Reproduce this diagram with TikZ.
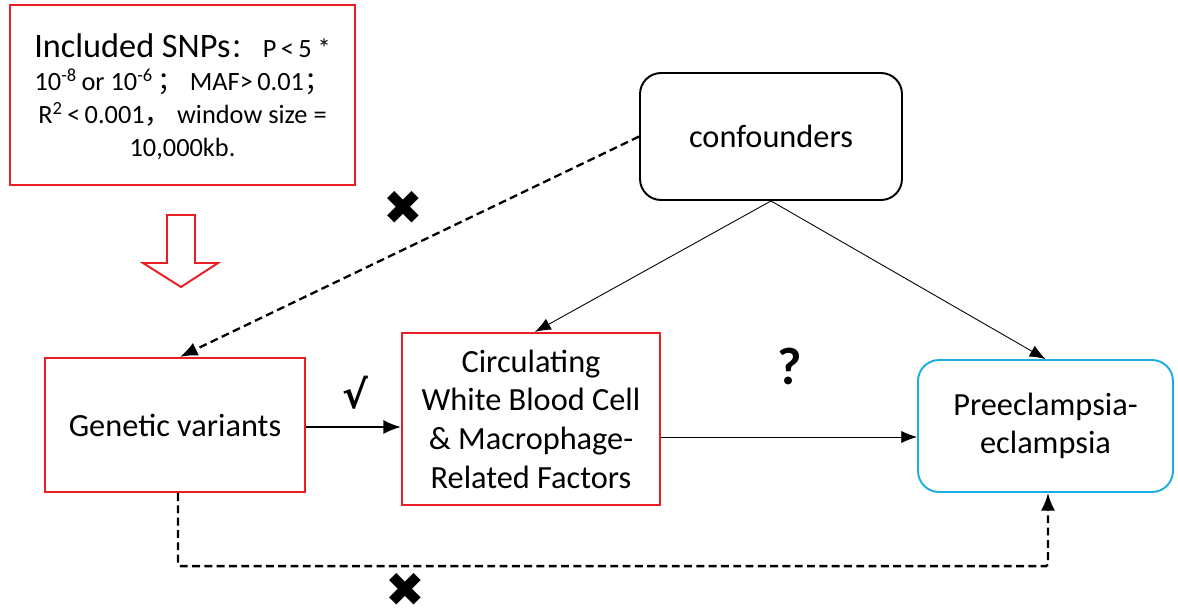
\documentclass[tikz,border=0pt]{standalone}
\usepackage{fontspec}
\usepackage{xcolor}
\usepackage{tikz}
\usetikzlibrary{arrows.meta}
\setmainfont{Carlito}
\newfontfamily\cjk{Noto Sans CJK SC}
\newfontfamily\symfont{DejaVu Sans}

\begin{document}
\begin{tikzpicture}[x=0.02cm,y=-0.02cm]
        % Define colors
        \definecolor{boxred}{RGB}{232,30,36}
        \definecolor{boxblue}{RGB}{28,172,228}

        \tikzset{
            redbox/.style={draw=boxred, line width=1.3pt, align=center, inner sep=2pt,
                font=\fontsize{18.4}{22}\selectfont},
            roundbox/.style={rounded corners=0.42cm, line width=1.1pt, align=center,
                font=\fontsize{18.4}{22}\selectfont},
            thinarrow/.style={-{Latex[length=9pt,width=7pt]}, line width=0.5pt},
            dasharrow/.style={-{Latex[length=10pt,width=8pt]}, line width=1.3pt,
                dash pattern=on 4.5pt off 2.5pt},
            crossmark/.style={inner sep=0pt, font=\symfont\fontsize{27}{27}\selectfont}
        }

        \useasboundingbox (0,0) rectangle (1178,616);

        % Selection criteria box
        \node[redbox, minimum width=6.9cm, minimum height=3.6cm] (snp) at (182.5,95) {};
        \node[align=center, font=\fontsize{15}{18.7}\selectfont] (snptext) at (182.5,97)
            {{\fontsize{19.5}{18.7}\selectfont Included SNPs}{\cjk ：}\ P\,<\,5 *\\
             10\textsuperscript{-8}\,or 10\textsuperscript{-6}\,{\cjk ；}\ MAF>\,0.01{\cjk ；}\\
             R\textsuperscript{2}\,<\,0.001{\cjk ，}\ window size =\\
             10,000kb.};

        % Hollow arrow below the criteria box
        \draw[boxred, line width=1.1pt, fill=white]
            (167,215) -- (195,215) -- (195,263) -- (218,263) -- (181,287)
            -- (143,263) -- (167,263) -- cycle;

        % Main boxes
        \node[redbox, minimum width=5.2cm, minimum height=2.68cm] (gen) at (175,425) {Genetic variants};
        \node[redbox, minimum width=5.16cm, minimum height=3.44cm] (circ) at (531,419)
            {Circulating\\White Blood Cell\\\& Macrophage-\\Related Factors};
        \node[roundbox, draw=boxblue, minimum width=5.1cm, minimum height=2.64cm] (pre) at (1045.5,426)
            {Preeclampsia-\\eclampsia};
        \node[roundbox, draw=black, minimum width=5.24cm, minimum height=2.54cm] (conf) at (771,136.5)
            {confounders};

        % Connectors
        \draw[dasharrow] (conf.west) -- ([xshift=0.1cm]gen.north);
        \draw[thinarrow] (conf.south) -- ([xshift=0.08cm]circ.north);
        \draw[thinarrow] (conf.south) -- (pre.north);
        \draw[-{Latex[length=10pt,width=8pt]}, line width=1pt] ([yshift=-0.04cm]gen.east)
            -- ([yshift=-0.04cm]gen.east -| circ.west);
        \draw[thinarrow] ([yshift=-0.36cm]circ.east) -- ([yshift=-0.36cm]circ.east -| pre.west);
        \draw[dasharrow, rounded corners=1pt] ([xshift=0.06cm]gen.south) -- ++(0,73)
            -| ([xshift=0.05cm]pre.south);

        % Marks
        \node[font=\symfont\bfseries\fontsize{22}{22}\selectfont] (tick) at (355,393) {√};
        \node[font=\bfseries\fontsize{30}{30}\selectfont] (query) at (790,366) {?};
        \foreach \name/\px/\py in {crossa/403/208, crossb/405/590} {
            \node[crossmark] (\name) at (\px,\py) {✖};
        }
\end{tikzpicture}
\end{document}
